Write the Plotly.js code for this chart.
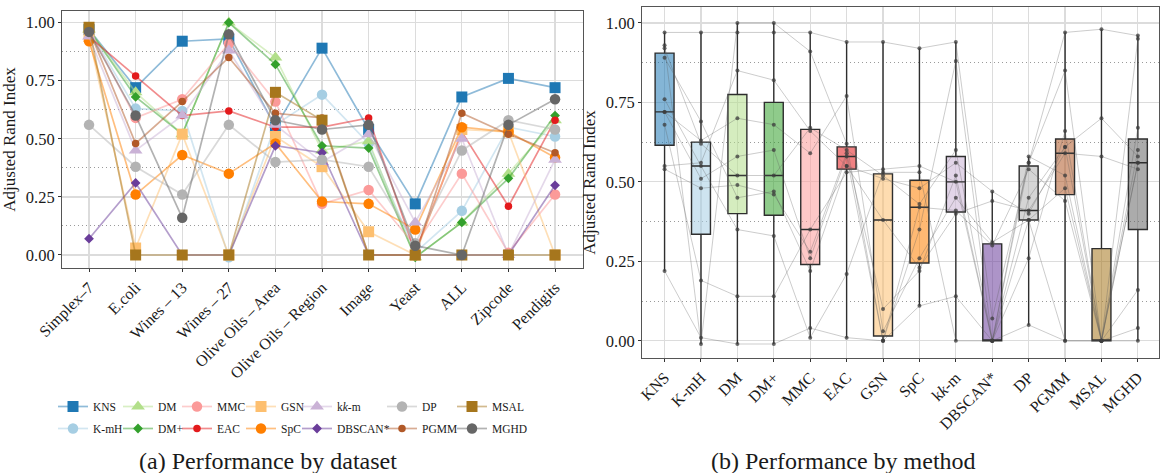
<!DOCTYPE html>
<html>
<head>
<meta charset="utf-8">
<script src="https://cdn.plot.ly/plotly-3.0.1.min.js"></script>
<style>html,body{margin:0;padding:0;background:#fff;}</style>
</head>
<body>
<div id="chart" style="width:1161px;height:473px;"></div>
<script>
// Datasets (x categories of the left panel)
const datasets = ['Simplex–7', 'E.coli', 'Wines – 13', 'Wines – 27', 'Olive Oils – Area',
  'Olive Oils – Region', 'Image', 'Yeast', 'ALL', 'Zipcode', 'Pendigits'];

// Clustering methods (x categories of the right panel, legend entries)
const methods = ['KNS', 'K-mH', 'DM', 'DM+', 'MMC', 'EAC', 'GSN', 'SpC', 'k<i>k</i>-m',
  'DBSCAN*', 'DP', 'PGMM', 'MSAL', 'MGHD'];

// Adjusted Rand Index of each method, in dataset order
const ariKNS    = [0.97, 0.72, 0.92, 0.93, 0.55, 0.89, 0.54, 0.22, 0.68, 0.76, 0.72];
const ariKmH    = [0.97, 0.63, 0.62, -0.01, 0.56, 0.69, 0.48, 0.01, 0.19, 0.55, 0.51];
const ariDM     = [0.97, 0.70, 0.52, 1.00, 0.85, 0.45, 0.49, -0.01, 0.14, 0.35, 0.58];
const ariDMplus = [0.97, 0.68, 0.52, 1.00, 0.82, 0.47, 0.46, -0.01, 0.14, 0.33, 0.60];
const ariMMC    = [0.97, 0.59, 0.67, 0.91, 0.66, 0.22, 0.28, 0.04, 0.35, 0.01, 0.26];
const ariEAC    = [0.94, 0.77, 0.60, 0.62, 0.55, 0.55, 0.59, 0.01, 0.53, 0.21, 0.58];
const ariGSN    = [0.94, 0.03, 0.52, 0.00, 0.51, 0.38, 0.10, 0.00, 0.54, 0.53, 0.00];
const ariSpC    = [0.92, 0.26, 0.43, 0.35, 0.48, 0.23, 0.22, 0.11, 0.55, 0.53, 0.42];
const ariKKm    = [0.94, 0.45, 0.60, 0.88, 0.56, 0.40, 0.52, 0.14, 0.50, 0.00, 0.41];
const ariDBSCAN = [0.07, 0.31, 0.00, 0.00, 0.47, 0.44, 0.00, 0.00, 0.00, 0.00, 0.30];
const ariDP     = [0.56, 0.38, 0.26, 0.56, 0.40, 0.41, 0.38, 0.05, 0.45, 0.58, 0.54];
const ariPGMM   = [0.97, 0.48, 0.66, 0.85, 0.61, 0.59, 0.00, 0.00, 0.61, 0.52, 0.44];
const ariMSAL   = [0.98, 0.00, 0.00, 0.00, 0.70, 0.58, 0.00, 0.00, 0.00, 0.00, 0.00];
const ariMGHD   = [0.96, 0.60, 0.16, 0.95, 0.58, 0.54, 0.56, 0.04, 0.00, 0.56, 0.67];

const series = [ariKNS, ariKmH, ariDM, ariDMplus, ariMMC, ariEAC, ariGSN, ariSpC, ariKKm,
  ariDBSCAN, ariDP, ariPGMM, ariMSAL, ariMGHD];

// Styling per method
const colors = ['#1f78b4', '#a6cee3', '#b2df8a', '#33a02c', '#fb9a99', '#e31a1c', '#fdbf6f',
  '#ff7f00', '#cab2d6', '#6a3d9a', '#b3b3b3', '#b15928', '#a6761d', '#666666'];
const symbols = ['square', 'circle', 'triangle-up', 'diamond', 'circle', 'circle', 'square',
  'circle', 'triangle-up', 'diamond', 'circle', 'circle', 'square', 'circle'];
const sizes = [11, 10.5, 12, 7.5, 10.5, 7.5, 11, 10.5, 12, 7.5, 10.5, 7.5, 11, 10.5];

function rgba(hex, a) {
  const n = parseInt(hex.slice(1), 16);
  return `rgba(${(n >> 16) & 255},${(n >> 8) & 255},${n & 255},${a})`;
}

const W = 1161, H = 473;
const FONT = 'Liberation Serif, Times New Roman, serif';
const traces = [];

// Left panel: one line per method across datasets
series.forEach((vals, i) => {
  traces.push({
    type: 'scatter', mode: 'lines+markers',
    x: datasets, y: vals, xaxis: 'x', yaxis: 'y',
    name: methods[i], legendgroup: methods[i],
    legend: i < 2 ? 'legend' : 'legend' + (Math.floor(i / 2) + 1),
    line: {color: rgba(colors[i], 0.5), width: 1.7},
    marker: {color: colors[i], symbol: symbols[i], size: sizes[i], line: {width: 0}},
    hoverinfo: 'x+y+name'
  });
});

// Right panel: one box per method
series.forEach((vals, i) => {
  traces.push({
    type: 'box', x: vals.map(() => methods[i]), y: vals, xaxis: 'x2', yaxis: 'y2',
    boxpoints: false, quartilemethod: 'inclusive', width: 0.52, whiskerwidth: 0,
    fillcolor: rgba(colors[i], 0.55), line: {color: '#2e2e2e', width: 1.4},
    showlegend: false, hoverinfo: 'y'
  });
});

// Right panel: each dataset traced across methods
datasets.forEach((d, j) => {
  traces.push({
    type: 'scatter', mode: 'lines+markers', xaxis: 'x2', yaxis: 'y2',
    x: methods, y: series.map(v => v[j]), name: d, showlegend: false,
    line: {color: 'rgba(90,90,90,0.35)', width: 0.9},
    marker: {color: 'rgba(60,60,60,0.75)', size: 4},
    hoverinfo: 'x+y+name'
  });
});

const gridCol = '#dcdcdc';
const yCommon = {
  tickformat: '.2f', dtick: 0.25, tick0: 0, ticks: 'outside', ticklen: 3, tickcolor: '#333',
  showgrid: true, gridcolor: gridCol, gridwidth: 1.2, zeroline: false,
  showline: true, mirror: true, linecolor: '#555', linewidth: 1,
  tickfont: {size: 16.5, color: '#1a1a1a'},
  minor: {tick0: 0.125, dtick: 0.25, showgrid: true, gridcolor: '#9a9a9a', gridwidth: 1, griddash: '1px,3px'},
  title: {text: 'Adjusted Rand Index', font: {size: 17, color: '#1a1a1a'}, standoff: 5}
};
const xCommon = {
  type: 'category', tickangle: -45, ticks: 'outside', ticklen: 3, tickcolor: '#333',
  showgrid: true, gridcolor: gridCol, gridwidth: 1.2,
  showline: true, mirror: true, linecolor: '#555', linewidth: 1,
  tickfont: {size: 16, color: '#1a1a1a'}
};

const legendCenters = [73, 138, 197, 261, 317, 402, 472];
const legendTop = 392;
const layout = {
  width: W, height: H,
  margin: {l: 0, r: 0, t: 0, b: 0},
  paper_bgcolor: '#ffffff', plot_bgcolor: '#ffffff',
  font: {family: FONT, size: 16, color: '#1a1a1a'},
  xaxis: Object.assign({}, xCommon, {domain: [62 / W, 583 / W], range: [-0.58, 10.6], anchor: 'y'}),
  yaxis: Object.assign({}, yCommon, {domain: [1 - 268 / H, 1 - 11 / H], range: [-0.056, 1.05], anchor: 'x'}),
  xaxis2: Object.assign({}, xCommon, {domain: [642 / W, 1159 / W], range: [-0.62, 13.58], anchor: 'y2'}),
  yaxis2: Object.assign({}, yCommon, {domain: [1 - 358 / H, 1 - 7 / H], range: [-0.054, 1.05], anchor: 'x2'}),
  annotations: [
    {text: '(a) Performance by dataset', xref: 'paper', yref: 'paper', x: 268 / W, y: 1 - 461 / H,
      xanchor: 'center', yanchor: 'middle', showarrow: false, font: {size: 24, color: '#1a1a1a'}},
    {text: '(b) Performance by method', xref: 'paper', yref: 'paper', x: 843 / W, y: 1 - 461 / H,
      xanchor: 'center', yanchor: 'middle', showarrow: false, font: {size: 24, color: '#1a1a1a'}}
  ],
  showlegend: true
};
legendCenters.forEach((c, k) => {
  layout[k === 0 ? 'legend' : 'legend' + (k + 1)] = {
    x: (c - 20) / W, y: 1 - legendTop / H, xanchor: 'left', yanchor: 'top',
    orientation: 'v', bgcolor: 'rgba(0,0,0,0)', borderwidth: 0,
    tracegroupgap: 3, itemwidth: 30, font: {size: 11.5, color: '#1a1a1a'}
  };
});

Plotly.newPlot('chart', traces, layout, {displayModeBar: false, staticPlot: true});
</script>
</body>
</html>
